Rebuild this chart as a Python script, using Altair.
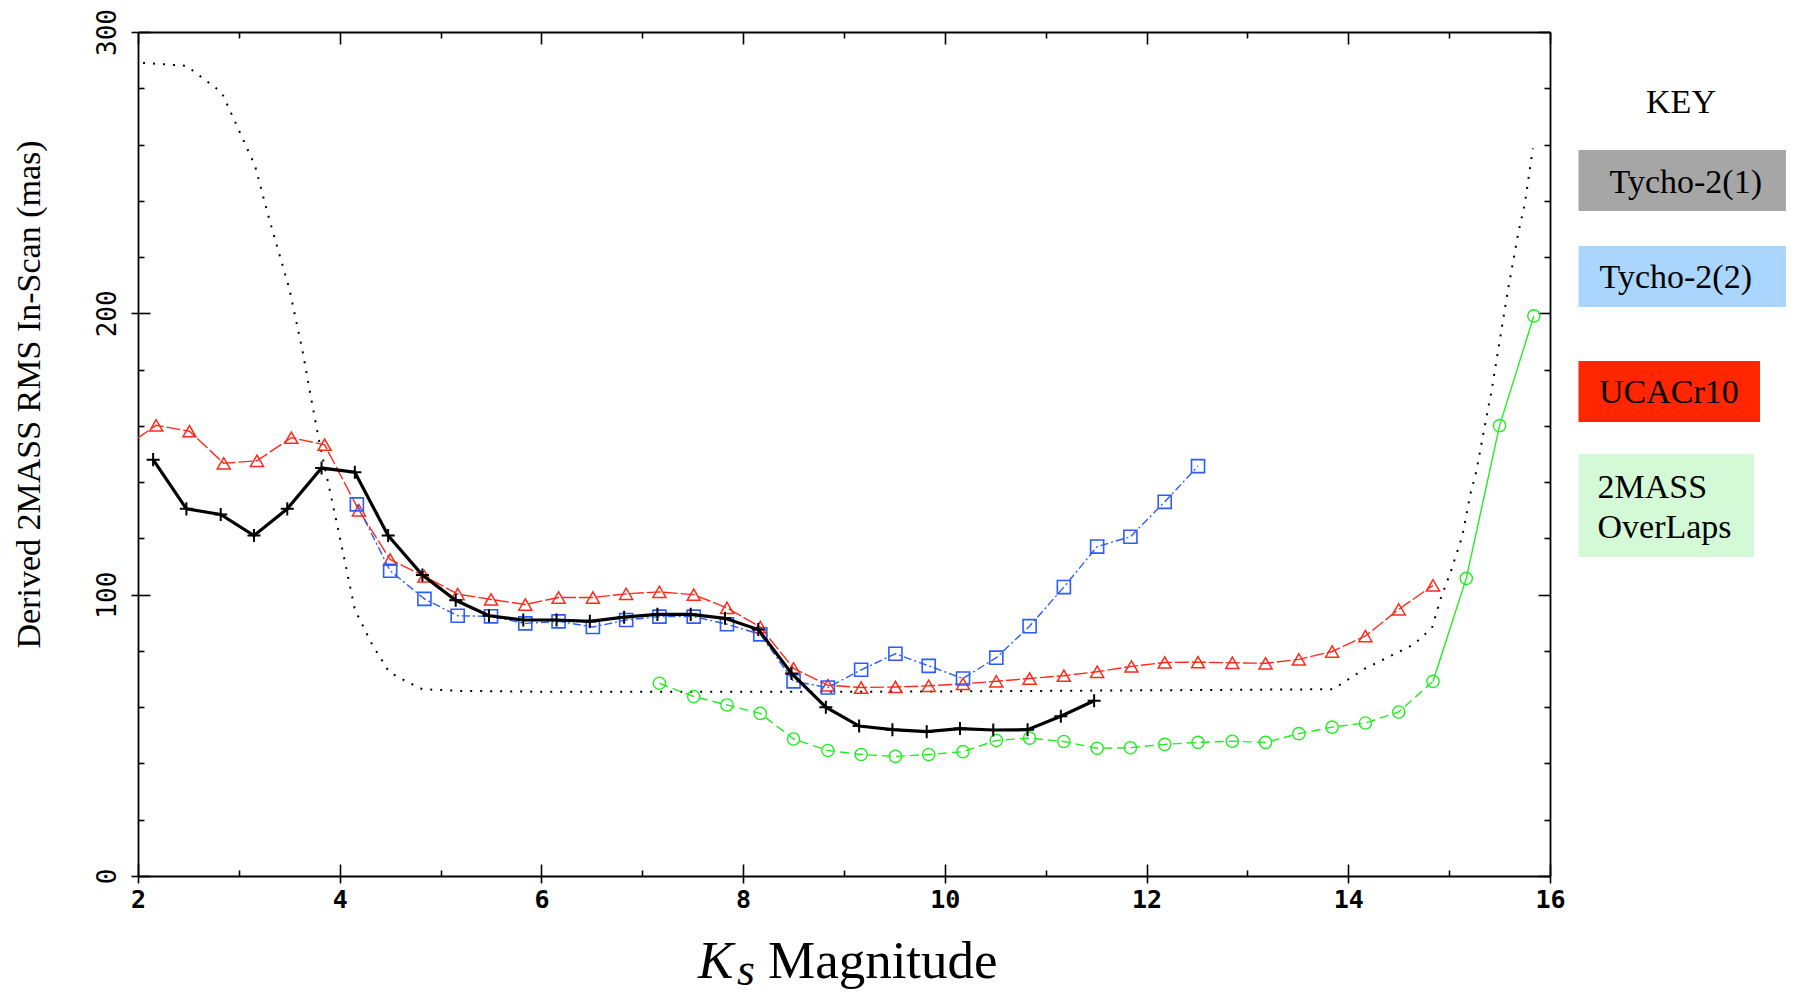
import altair as alt
import pandas as pd

# ---------------- data ----------------
black_x = [2.15, 2.48, 2.82, 3.15, 3.48, 3.82, 4.15, 4.48, 4.82, 5.15,
           5.48, 5.82, 6.15, 6.48, 6.82, 7.15, 7.48, 7.82, 8.15, 8.48,
           8.82, 9.15, 9.48, 9.82, 10.15, 10.48, 10.82, 11.15, 11.48]
black_y = [148, 130.5, 128.5, 121, 130.5, 145, 143.5, 121, 107, 98,
           92.5, 91, 91, 90.5, 92, 93, 93, 91.6, 87.6, 72,
           60, 53.3, 52, 51.3, 52.4, 51.9, 52, 56.8, 62.3]

red_x = [1.85, 2.18, 2.51, 2.85, 3.18, 3.52, 3.85, 4.19, 4.5, 4.84,
         5.17, 5.5, 5.84, 6.17, 6.51, 6.84, 7.17, 7.51, 7.84, 8.17,
         8.5, 8.84, 9.17, 9.51, 9.84, 10.18, 10.51, 10.84, 11.18, 11.51,
         11.85, 12.18, 12.51, 12.85, 13.18, 13.51, 13.84, 14.17, 14.5, 14.84]
red_y = [152, 160.2, 158.1, 146.7, 147.6, 155.8, 153.3, 130, 112.5, 106.5,
         100.2, 98.3, 96.5, 99, 99, 100.3, 101, 100, 95.3, 88.5,
         73.8, 67.8, 67, 67.2, 67.6, 68.3, 69.2, 70.2, 71.2, 72.6,
         74.5, 75.9, 76, 75.8, 75.6, 77, 79.8, 85.3, 94.8, 103.3]

blue_x = [4.17, 4.5, 4.84, 5.17, 5.5, 5.84, 6.17, 6.51, 6.84, 7.17,
          7.51, 7.84, 8.17, 8.5, 8.84, 9.17, 9.51, 9.84, 10.18, 10.51,
          10.84, 11.18, 11.51, 11.84, 12.18, 12.51]
blue_y = [132.1, 108.5, 98.5, 92.5, 92.3, 89.8, 90.5, 88.5, 91, 92.2,
          92.2, 89.5, 85.9, 69.2, 67, 73.3, 79, 74.7, 70.2, 77.6,
          88.8, 102.7, 117.1, 120.6, 133, 145.7]

green_x = [7.17, 7.51, 7.84, 8.17, 8.5, 8.84, 9.17, 9.51, 9.84, 10.18,
           10.51, 10.84, 11.18, 11.51, 11.84, 12.18, 12.51, 12.85, 13.18, 13.51,
           13.84, 14.17, 14.5, 14.84, 15.17, 15.5, 15.84]
green_y = [68.5, 63.8, 60.8, 57.8, 48.7, 44.6, 43.2, 42.5, 43.2, 44.2,
           48.2, 49, 47.8, 45.4, 45.6, 46.8, 47.5, 47.9, 47.5, 50.6,
           52.9, 54.4, 58.3, 69.2, 105.8, 160.1, 199.1]

dotted_x = [2.05, 2.48, 2.83, 3.16, 3.3, 3.5, 3.63, 3.72, 3.8, 3.89,
            4.0, 4.15, 4.32, 4.49, 4.67, 4.82, 5.2, 6.0, 7.0, 8.0,
            9.0, 10.0, 11.0, 12.0, 13.0, 13.85, 14.0, 14.16, 14.48, 14.65,
            14.83, 14.92, 15.02, 15.13, 15.21, 15.27, 15.34, 15.42, 15.5, 15.58,
            15.69, 15.75, 15.83]
dotted_y = [289, 288, 278.5, 252.5, 233.6, 208.8, 186.9, 169.1, 153.8, 139,
            120.6, 94.7, 82.4, 72.5, 69, 66.4, 65.8, 65.5, 65.5, 65.5,
            65.5, 65.6, 65.8, 66, 66.2, 66.4, 69.9, 73.6, 79.3, 82.3,
            88.2, 99, 108.6, 120.8, 135.7, 143.9, 157.4, 172.4, 190, 207.7,
            229.4, 238.9, 258.6]

x_major = [2, 4, 6, 8, 10, 12, 14, 16]
x_minor = [3, 5, 7, 9, 11, 13, 15]
y_major = [0, 100, 200, 300]
y_minor = [20, 40, 60, 80, 120, 140, 160, 180, 220, 240, 260, 280]

y_title = "Derived 2MASS RMS In-Scan (mas)"
x_title_parts = ["K", "s", "Magnitude"]
key_title = "KEY"
legend_labels = ["Tycho-2(1)", "Tycho-2(2)", "UCACr10", "2MASS", "OverLaps"]
legend_colors = ["#a6a6a6", "#aad5fc", "#ff2600", "#d4f9d6"]

# ---------------- styling ----------------
W, H = 1412, 844
SERIF = "Liberation Serif"
MONO = "DejaVu Sans Mono"
RED = "#ff2a1a"
BLUE = "#2b5cff"
GREEN = "#22ee22"

xsc = alt.Scale(domain=[2, 16], nice=False, zero=False)
ysc = alt.Scale(domain=[0, 300], nice=False, zero=False)


def tick_axis(orient, offset, values, size, domain=False):
    return alt.Axis(orient=orient, offset=offset, values=values, tickSize=size,
                    tickColor="black", tickWidth=1.6, labels=False, domain=domain,
                    domainColor="black", domainWidth=1.8, grid=False, title=None)


ax_x_lab = alt.Axis(orient="bottom", values=x_major, tickSize=7, tickWidth=1.6,
                    tickColor="black", domain=True, domainColor="black", domainWidth=1.8,
                    labelFont=MONO, labelFontSize=25, labelFontWeight="bold",
                    labelColor="black", labelPadding=4,
                    labelFlush=False, labelOverlap=False, grid=False, title=None)
ax_y_lab = alt.Axis(orient="left", values=y_major, tickSize=7, tickWidth=1.6,
                    tickColor="black", domain=True, domainColor="black", domainWidth=1.8,
                    labelFont=MONO, labelFontSize=26, labelColor="black", labelPadding=11,
                    labelAngle=270, labelAlign="center", labelBaseline="bottom",
                    labelFlush=False, labelOverlap=False, grid=False,
                    title=y_title, titleFont=SERIF, titleFontSize=34, titleFontWeight="normal",
                    titleColor="black", titleAngle=270, titleAlign="center",
                    titleBaseline="alphabetic", titleX=-99, titleY=362)

df_black = pd.DataFrame({"x": black_x, "y": black_y})
df_red = pd.DataFrame({"x": red_x, "y": red_y})
df_blue = pd.DataFrame({"x": blue_x, "y": blue_y})
df_green = pd.DataFrame({"x": green_x, "y": green_y})
df_dot = pd.DataFrame({"x": dotted_x, "y": dotted_y})


def enc(ch, xa=None, ya=None):
    return ch.encode(
        x=alt.X("x:Q", scale=xsc, axis=xa),
        y=alt.Y("y:Q", scale=ysc, axis=ya),
    )


dotted = enc(alt.Chart(df_dot).mark_line(color="black", strokeWidth=2, strokeDash=[2, 8]),
             ax_x_lab, ax_y_lab)

green_dash = enc(alt.Chart(df_green).transform_filter("datum.x <= 14.84")
                 .mark_line(color=GREEN, strokeWidth=1.4, strokeDash=[9, 5]),
                 tick_axis("top", -H, x_major, 12), tick_axis("right", -W, y_major, 12))
green_solid = enc(alt.Chart(df_green).transform_filter("datum.x >= 14.84")
                  .mark_line(color=GREEN, strokeWidth=1.4),
                  tick_axis("top", -H, x_minor, 6), tick_axis("right", -W, y_minor, 6))
green_pts = enc(alt.Chart(df_green).mark_point(shape="circle", filled=False, size=150,
                                               strokeWidth=1.4, color=GREEN, opacity=1))

red_line = enc(alt.Chart(df_red).mark_line(color=RED, strokeWidth=1.4, strokeDash=[14, 3], clip=True),
               tick_axis("bottom", -H, x_major, 12, domain=True),
               tick_axis("left", -W, y_major, 12, domain=True))
red_pts = enc(alt.Chart(df_red).mark_point(shape="triangle-up", filled=False, size=170,
                                           strokeWidth=1.5, color=RED, opacity=1, clip=True),
              tick_axis("bottom", -H, x_minor, 6), tick_axis("left", -W, y_minor, 6))

blue_line = enc(alt.Chart(df_blue).mark_line(color=BLUE, strokeWidth=1.4, strokeDash=[8, 3, 2, 3]))
blue_pts = enc(alt.Chart(df_blue).mark_point(shape="square", filled=False, size=170,
                                             strokeWidth=1.6, color=BLUE, opacity=1))

black_line = enc(alt.Chart(df_black).mark_line(color="black", strokeWidth=3.2))
black_pts = enc(alt.Chart(df_black).mark_point(shape="M-1,0L1,0M0,-1L0,1", filled=False, size=170,
                                               strokeWidth=2, color="black", opacity=1))


def text_layer(txt, px, py, size, align="left", style="normal", color="black"):
    return alt.Chart(pd.DataFrame({"t": [txt]})).mark_text(
        align=align, baseline="alphabetic", font=SERIF, fontSize=size,
        fontStyle=style, color=color,
    ).encode(text="t:N", x=alt.value(px), y=alt.value(py))


# x-axis title: italic K with subscript s, then "Magnitude"
title_layers = [
    text_layer(x_title_parts[0], 560, 946, 53, style="italic"),
    text_layer(x_title_parts[1], 599, 953, 46, style="italic"),
    text_layer(x_title_parts[2], 630, 946, 53),
]

# KEY panel on the right
LX = 1440.5
box_geo = [(LX, 1648, 118, 179), (LX, 1648, 214, 275), (LX, 1622, 329, 390), (LX, 1616, 422, 525)]
legend_layers = [text_layer(key_title, 1543, 81, 34, align="center")]
for (x1, x2, y1, y2), col in zip(box_geo, legend_colors):
    legend_layers.append(
        alt.Chart(pd.DataFrame({"k": [0]})).mark_rect(color=col).encode(
            x=alt.value(x1), x2=alt.value(x2), y=alt.value(y1), y2=alt.value(y2))
    )
label_pos = [(1471.5, 161), (1461.5, 256), (1461, 371), (1459.5, 466), (1459.5, 506)]
for lab, (px, py) in zip(legend_labels, label_pos):
    legend_layers.append(text_layer(lab, px, py, 34))

chart = alt.layer(
    dotted, green_dash, green_solid, green_pts, red_line, red_pts,
    blue_line, blue_pts, black_line, black_pts, *title_layers, *legend_layers
).resolve_axis(x="independent", y="independent").properties(
    width=W, height=H,
    autosize=alt.AutoSizeParams(type="none"),
    padding={"left": 130, "top": 24, "right": 240, "bottom": 120},
    background="white",
).configure_view(strokeWidth=0)

chart.save("out.html", embed_options={"renderer": "svg", "actions": False})
